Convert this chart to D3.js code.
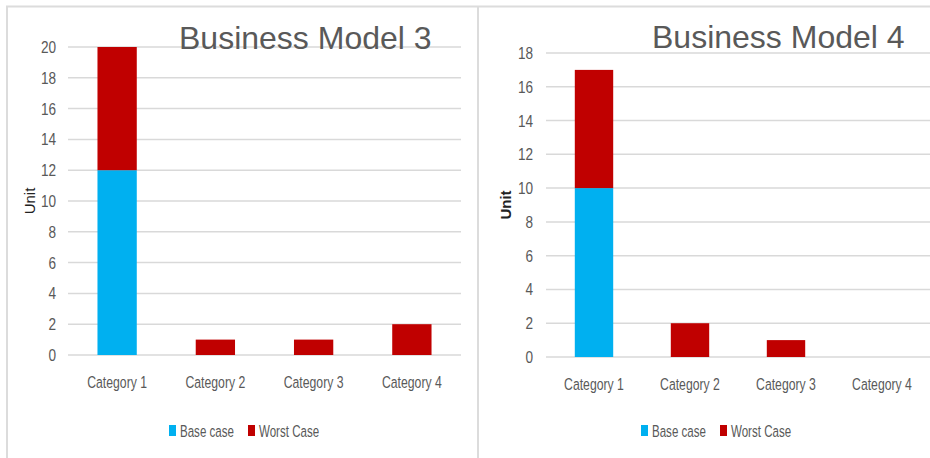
<!DOCTYPE html>
<html><head><meta charset="utf-8">
<script src="https://cdn.jsdelivr.net/npm/d3@7"></script>
<style>body{margin:0;background:#fff}svg{display:block}</style>
</head><body>
<svg id="c" width="930" height="458"></svg>
<script>
const categories = ["Category 1","Category 2","Category 3","Category 4"];
const seriesNames = ["Base case","Worst Case"];
const seriesColors = ["#00B0F0","#C00000"];
// Business Model 3
const bm3Base = [12,0,0,0];
const bm3Worst = [8,1,1,2];
const bm3Ticks = [0,2,4,6,8,10,12,14,16,18,20];
// Business Model 4
const bm4Base = [10,0,0,0];
const bm4Worst = [7,2,1,0];
const bm4Ticks = [0,2,4,6,8,10,12,14,16,18];

const svg = d3.select("#c");
const font = "'Liberation Sans',Arial,sans-serif";

// panel borders
svg.append("line").attr("x1",6).attr("x2",930).attr("y1",6.5).attr("y2",6.5).attr("stroke","#dcdcdc").attr("stroke-width",2);
svg.append("line").attr("x1",7).attr("x2",7).attr("y1",6).attr("y2",458).attr("stroke","#dcdcdc").attr("stroke-width",2);
svg.append("line").attr("x1",478).attr("x2",478).attr("y1",6).attr("y2",458).attr("stroke","#dcdcdc").attr("stroke-width",2);

function panel(cfg){
  const g = svg.append("g");
  const x = d3.scaleBand().domain(categories).range([cfg.x0,cfg.x1]).paddingInner(0.6).paddingOuter(0.3);
  const y = d3.scaleLinear().domain([0,cfg.max]).range([cfg.yb,cfg.yt]);
  // gridlines
  g.selectAll("line.grid").data(cfg.ticks).join("line")
    .attr("x1",cfg.x0).attr("x2",cfg.x1)
    .attr("y1",d=>y(d)).attr("y2",d=>y(d))
    .attr("stroke","#d9d9d9").attr("stroke-width",1.5);
  // y axis labels
  const ya = d3.axisLeft(y).tickValues(cfg.ticks).tickSize(0).tickPadding(0);
  const yg = g.append("g").attr("transform",`translate(${cfg.tickX},0)`).call(ya);
  yg.select(".domain").remove();
  yg.selectAll("text").attr("x",0).attr("font-family",font).attr("font-size",17).attr("fill","#595959")
    .attr("transform","scale(0.8,1)");
  // stacked bars
  const rows = categories.map((c,i)=>({cat:c, base:cfg.base[i], worst:cfg.worst[i]}));
  const stack = d3.stack().keys(["base","worst"])(rows);
  stack.forEach((layer,k)=>{
    g.selectAll(null).data(layer.filter(d=>d[1]-d[0]>0)).join("rect")
      .attr("x",d=>x(d.data.cat)).attr("width",x.bandwidth())
      .attr("y",d=>y(d[1])).attr("height",d=>y(d[0])-y(d[1]))
      .attr("fill",seriesColors[k]);
  });
  // x axis labels
  const xa = d3.axisBottom(x).tickSize(0).tickPadding(0);
  const xg = g.append("g").attr("transform",`translate(0,${cfg.catY})`).call(xa);
  xg.select(".domain").remove();
  xg.selectAll("text").attr("y",0).attr("font-family",font).attr("font-size",17).attr("fill","#595959").attr("dy","0.32em")
    .attr("transform","scale(0.72,1)");
  // unit label
  g.append("text").attr("transform",`translate(${cfg.unitX},${cfg.unitY}) rotate(-90)`)
    .attr("text-anchor","middle").attr("dy","0.35em")
    .attr("font-family",font).attr("font-size",15)
    .attr("font-weight",cfg.unitBold?"bold":"normal").attr("fill","#222")
    .text("Unit");
  // title
  g.append("text").attr("x",cfg.titleX).attr("y",cfg.titleY)
    .attr("font-family",font).attr("font-size",32)
    .attr("fill","#595959").text(cfg.title);
  // legend
  const lg = g.append("g");
  seriesNames.forEach((s,k)=>{
    lg.append("rect").attr("x",cfg.leg[k]).attr("y",cfg.legY-6).attr("width",7).attr("height",11).attr("fill",seriesColors[k]);
    lg.append("g").attr("transform",`translate(${cfg.leg[k]+11},${cfg.legY})`)
      .append("text").attr("dy","0.35em").attr("transform","scale(0.68,1)")
      .attr("font-family",font).attr("font-size",17).attr("fill","#595959").text(s);
  });
}

panel({x0:68,x1:461,yt:47,yb:355,max:20,ticks:bm3Ticks,base:bm3Base,worst:bm3Worst,
  tickX:56,catY:383,unitX:30,unitY:201,unitBold:false,title:"Business Model 3",titleX:179,titleY:49,
  leg:[169,248],legY:431});
panel({x0:546,x1:930,yt:53,yb:357,max:18,ticks:bm4Ticks,base:bm4Base,worst:bm4Worst,
  tickX:533,catY:385,unitX:506,unitY:205,unitBold:true,title:"Business Model 4",titleX:652,titleY:48,
  leg:[641,720],legY:431});
</script>
</body></html>
